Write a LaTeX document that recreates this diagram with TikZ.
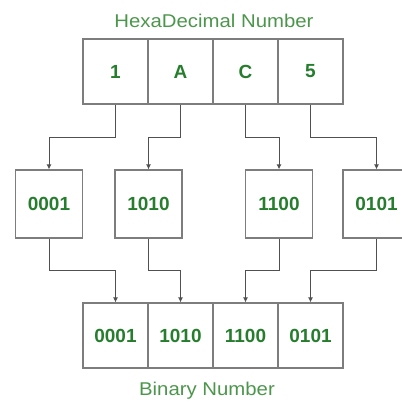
\documentclass[tikz,border=0pt]{standalone}
\usepackage{fontspec}
\usepackage{graphicx}
\setmainfont{Liberation Sans}
\usetikzlibrary{arrows.meta}
\definecolor{txtgreen}{RGB}{38,125,45}
\definecolor{titlegreen}{RGB}{75,150,75}
\definecolor{boxgray}{RGB}{125,125,125}
\definecolor{linegray}{RGB}{80,80,80}
\begin{document}
\begin{tikzpicture}[x=1pt,y=-1pt,
  cell/.style={draw=boxgray,line width=1.2pt,minimum width=65pt,minimum height=65pt,inner sep=0pt,
    font=\fontsize{19}{20}\selectfont\bfseries,text=txtgreen},
  mbox/.style={cell,minimum width=67pt,minimum height=68pt},
  title/.style={font=\fontsize{18.5}{20}\selectfont,text=titlegreen,inner sep=0pt},
  conn/.style={draw=linegray,line width=1pt,-{Latex[length=5pt,width=5pt]}}]
\useasboundingbox (0,0) rectangle (401,403);
% title
\node[title] (ht) at (214,21) {\scalebox{1.1}[1]{HexaDecimal Number}};
% top cells
\node[cell] (t1) at (115.5,71.5) {1};
\node[cell] (t2) at (180.5,71.5) {A};
\node[cell] (t3) at (245.5,71.5) {C};
\node[cell] (t4) at (310.5,71.5) {5};
% middle boxes
\node[mbox] (m1) at (49,204) {0001};
\node[mbox] (m2) at (148.5,204) {1010};
\node[mbox] (m3) at (279,204) {1100};
\node[mbox] (m4) at (376.5,204) {0101};
% bottom cells
\node[cell] (b1) at (115.5,335.5) {0001};
\node[cell] (b2) at (180.5,335.5) {1010};
\node[cell] (b3) at (245.5,335.5) {1100};
\node[cell] (b4) at (310.5,335.5) {0101};
\node[title] (bt) at (207,391) {\scalebox{1.1}[1]{Binary Number}};
% connectors
\draw[conn] (t1.south) -- ++(0,33) -| (m1.north);
\draw[conn] (t2.south) -- ++(0,33) -| (m2.north);
\draw[conn] (t3.south) -- ++(0,33) -| (m3.north);
\draw[conn] (t4.south) -- ++(0,33) -| (m4.north);
\draw[conn] (m1.south) -- ++(0,32) -| (b1.north);
\draw[conn] (m2.south) -- ++(0,32) -| (b2.north);
\draw[conn] (m3.south) -- ++(0,32) -| (b3.north);
\draw[conn] (m4.south) -- ++(0,32) -| (b4.north);
\end{tikzpicture}
\end{document}
